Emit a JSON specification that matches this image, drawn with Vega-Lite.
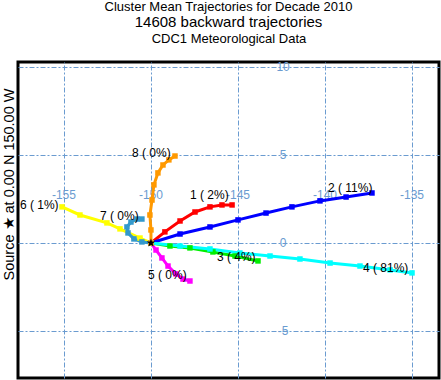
{
  "$schema": "https://vega.github.io/schema/vega-lite/v6.json",
  "width": 421,
  "height": 316,
  "autosize": {"type": "none"},
  "padding": {"left": 18, "top": 62, "right": 2, "bottom": 2},
  "background": "white",
  "config": {
    "font": "Liberation Sans",
    "view": {"stroke": "black", "strokeWidth": 3},
    "title": {"font": "Liberation Sans", "fontWeight": "normal", "subtitleFont": "Liberation Sans"}
  },
  "title": {
    "text": "Cluster Mean Trajectories for Decade 2010",
    "subtitle": "14608 backward trajectories",
    "fontSize": 13,
    "subtitleFontSize": 15,
    "subtitleColor": "black",
    "color": "black",
    "anchor": "middle",
    "frame": "group",
    "offset": 2,
    "subtitlePadding": 1
  },
  "datasets": {
    "traj": [
      {"cluster": "1", "seq": 0, "lon": -150.0, "lat": 0.0},
      {"cluster": "1", "seq": 1, "lon": -149.2, "lat": 0.63},
      {"cluster": "1", "seq": 2, "lon": -148.33, "lat": 1.25},
      {"cluster": "1", "seq": 3, "lon": -147.47, "lat": 1.76},
      {"cluster": "1", "seq": 4, "lon": -146.61, "lat": 2.05},
      {"cluster": "1", "seq": 5, "lon": -145.92, "lat": 2.16},
      {"cluster": "1", "seq": 6, "lon": -145.34, "lat": 2.16},
      {"cluster": "2", "seq": 0, "lon": -150.0, "lat": 0.0},
      {"cluster": "2", "seq": 1, "lon": -148.33, "lat": 0.51},
      {"cluster": "2", "seq": 2, "lon": -146.61, "lat": 0.91},
      {"cluster": "2", "seq": 3, "lon": -145.0, "lat": 1.31},
      {"cluster": "2", "seq": 4, "lon": -143.39, "lat": 1.7},
      {"cluster": "2", "seq": 5, "lon": -141.9, "lat": 2.05},
      {"cluster": "2", "seq": 6, "lon": -140.29, "lat": 2.39},
      {"cluster": "2", "seq": 7, "lon": -138.79, "lat": 2.61},
      {"cluster": "2", "seq": 8, "lon": -137.3, "lat": 2.84},
      {"cluster": "3", "seq": 0, "lon": -150.0, "lat": 0.0},
      {"cluster": "3", "seq": 1, "lon": -148.91, "lat": -0.17},
      {"cluster": "3", "seq": 2, "lon": -147.76, "lat": -0.28},
      {"cluster": "3", "seq": 3, "lon": -146.44, "lat": -0.51},
      {"cluster": "3", "seq": 4, "lon": -145.17, "lat": -0.74},
      {"cluster": "3", "seq": 5, "lon": -143.85, "lat": -1.02},
      {"cluster": "4", "seq": 0, "lon": -150.0, "lat": 0.0},
      {"cluster": "4", "seq": 1, "lon": -148.33, "lat": -0.17},
      {"cluster": "4", "seq": 2, "lon": -146.61, "lat": -0.34},
      {"cluster": "4", "seq": 3, "lon": -144.89, "lat": -0.57},
      {"cluster": "4", "seq": 4, "lon": -143.16, "lat": -0.74},
      {"cluster": "4", "seq": 5, "lon": -141.44, "lat": -0.91},
      {"cluster": "4", "seq": 6, "lon": -139.71, "lat": -1.14},
      {"cluster": "4", "seq": 7, "lon": -137.99, "lat": -1.31},
      {"cluster": "4", "seq": 8, "lon": -136.26, "lat": -1.53},
      {"cluster": "4", "seq": 9, "lon": -135.0, "lat": -1.7},
      {"cluster": "5", "seq": 0, "lon": -150.0, "lat": 0.0},
      {"cluster": "5", "seq": 1, "lon": -149.71, "lat": -0.4},
      {"cluster": "5", "seq": 2, "lon": -149.37, "lat": -0.85},
      {"cluster": "5", "seq": 3, "lon": -149.02, "lat": -1.31},
      {"cluster": "5", "seq": 4, "lon": -148.56, "lat": -1.76},
      {"cluster": "5", "seq": 5, "lon": -148.16, "lat": -2.05},
      {"cluster": "5", "seq": 6, "lon": -147.76, "lat": -2.16},
      {"cluster": "6", "seq": 0, "lon": -150.0, "lat": 0.0},
      {"cluster": "6", "seq": 1, "lon": -150.63, "lat": 0.28},
      {"cluster": "6", "seq": 2, "lon": -151.78, "lat": 0.8},
      {"cluster": "6", "seq": 3, "lon": -152.53, "lat": 1.14},
      {"cluster": "6", "seq": 4, "lon": -154.08, "lat": 1.59},
      {"cluster": "6", "seq": 5, "lon": -155.11, "lat": 2.05},
      {"cluster": "7", "seq": 0, "lon": -150.0, "lat": 0.0},
      {"cluster": "7", "seq": 1, "lon": -150.52, "lat": 0.06},
      {"cluster": "7", "seq": 2, "lon": -150.98, "lat": 0.23},
      {"cluster": "7", "seq": 3, "lon": -151.32, "lat": 0.57},
      {"cluster": "7", "seq": 4, "lon": -151.38, "lat": 0.91},
      {"cluster": "7", "seq": 5, "lon": -151.15, "lat": 1.19},
      {"cluster": "7", "seq": 6, "lon": -150.8, "lat": 1.36},
      {"cluster": "7", "seq": 7, "lon": -150.52, "lat": 1.36},
      {"cluster": "8", "seq": 0, "lon": -150.0, "lat": 0.0},
      {"cluster": "8", "seq": 1, "lon": -150.0, "lat": 0.74},
      {"cluster": "8", "seq": 2, "lon": -150.06, "lat": 1.59},
      {"cluster": "8", "seq": 3, "lon": -149.94, "lat": 2.44},
      {"cluster": "8", "seq": 4, "lon": -149.83, "lat": 3.3},
      {"cluster": "8", "seq": 5, "lon": -149.6, "lat": 3.98},
      {"cluster": "8", "seq": 6, "lon": -149.31, "lat": 4.43},
      {"cluster": "8", "seq": 7, "lon": -148.97, "lat": 4.72},
      {"cluster": "8", "seq": 8, "lon": -148.62, "lat": 4.94}
    ],
    "labels": [
      {"cluster": "1", "text": "1 ( 2%)", "lon": -147.76, "lat": 2.73},
      {"cluster": "2", "text": "2 ( 11%)", "lon": -139.83, "lat": 3.13},
      {"cluster": "3", "text": "3 ( 4%)", "lon": -146.21, "lat": -0.8},
      {"cluster": "4", "text": "4 ( 81%)", "lon": -137.82, "lat": -1.42},
      {"cluster": "5", "text": "5 ( 0%)", "lon": -150.17, "lat": -1.82},
      {"cluster": "6", "text": "6 ( 1%)", "lon": -157.53, "lat": 2.16},
      {"cluster": "7", "text": "7 ( 0%)", "lon": -152.93, "lat": 1.53},
      {"cluster": "8", "text": "8 ( 0%)", "lon": -151.09, "lat": 5.11}
    ],
    "gridlabels": [
      {"text": "-155", "lon": -155, "lat": 2.73},
      {"text": "-150", "lon": -150, "lat": 2.73},
      {"text": "-145", "lon": -145, "lat": 2.73},
      {"text": "-140", "lon": -140, "lat": 2.73},
      {"text": "-135", "lon": -135, "lat": 2.73},
      {"text": "10", "lon": -142.41, "lat": 10},
      {"text": "5", "lon": -142.41, "lat": 5},
      {"text": "0", "lon": -142.41, "lat": 0},
      {"text": "-5", "lon": -142.41, "lat": -5}
    ],
    "source": [
      {"lon": -150, "lat": 0}
    ]
  },
  "encoding": {
    "x": {
      "field": "lon", "type": "quantitative",
      "scale": {"domain": [-157.64, -133.45], "nice": false, "zero": false},
      "axis": {
        "orient": "top", "values": [-155, -150, -145, -140, -135],
        "grid": true, "gridColor": "#6a9bd0", "gridDash": [5, 2, 2, 2], "gridWidth": 1, "gridOpacity": 1,
        "labels": false, "ticks": false, "domain": false,
        "title": "CDC1 Meteorological Data", "titleFontSize": 13, "titleFontWeight": "normal",
        "titleColor": "black", "titlePadding": 17, "titleFont": "Liberation Sans"
      }
    },
    "y": {
      "field": "lat", "type": "quantitative",
      "scale": {"domain": [-7.67, 10.28], "nice": false, "zero": false},
      "axis": {
        "orient": "left", "values": [-5, 0, 5, 10],
        "grid": true, "gridColor": "#6a9bd0", "gridDash": [5, 2, 2, 2], "gridWidth": 1, "gridOpacity": 1,
        "labels": false, "ticks": false, "domain": false,
        "title": "Source \u2605  at   0.00 N  150.00 W", "titleFontSize": 14.5, "titleFontWeight": "normal",
        "titleColor": "black", "titleFont": "Liberation Sans",
        "titleX": -9, "titleY": 122, "titleBaseline": "middle", "titleAlign": "center", "titleAngle": -90
      }
    }
  },
  "layer": [
    {
      "data": {"name": "gridlabels"},
      "mark": {"type": "text", "fontSize": 12, "color": "#6a9bd0", "align": "center", "baseline": "middle", "font": "Liberation Sans"},
      "encoding": {"text": {"field": "text"}}
    },
    {
      "data": {"name": "traj"},
      "mark": {"type": "line", "strokeWidth": 3},
      "encoding": {
        "color": {"field": "cluster", "type": "nominal",
          "scale": {"domain": ["1","2","3","4","5","6","7","8"],
                    "range": ["#ff0000","#0000ff","#00ee00","#00ffff","#ff00ff","#ffff00","#3399cc","#ff9900"]},
          "legend": null},
        "order": {"field": "seq", "type": "quantitative"}
      }
    },
    {
      "data": {"name": "traj"},
      "mark": {"type": "point", "shape": "square", "filled": true, "size": 30, "opacity": 1},
      "encoding": {
        "color": {"field": "cluster", "type": "nominal",
          "scale": {"domain": ["1","2","3","4","5","6","7","8"],
                    "range": ["#ff0000","#0000ff","#00ee00","#00ffff","#ff00ff","#ffff00","#3399cc","#ff9900"]},
          "legend": null}
      }
    },
    {
      "data": {"name": "labels"},
      "mark": {"type": "text", "fontSize": 12, "color": "black", "align": "left", "baseline": "middle", "font": "Liberation Sans"},
      "encoding": {"text": {"field": "text"}}
    },
    {
      "data": {"name": "source"},
      "mark": {"type": "point", "shape": "M0,-1L0.235,-0.324L0.951,-0.309L0.38,0.124L0.588,0.809L0,0.4L-0.588,0.809L-0.38,0.124L-0.951,-0.309L-0.235,-0.324Z", "filled": true, "color": "black", "size": 80, "opacity": 1}
    }
  ]
}
